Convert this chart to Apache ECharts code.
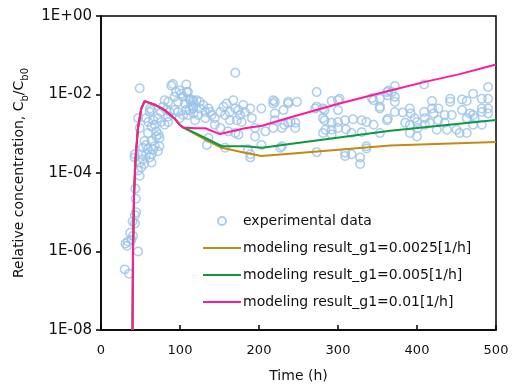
<!DOCTYPE html>
<html>
<head>
<meta charset="utf-8">
<script src="https://cdn.jsdelivr.net/npm/echarts@6/dist/echarts.min.js"></script>
<style>
html, body { margin: 0; padding: 0; background: #fff; }
#chart { width: 512px; height: 388px; }
</style>
</head>
<body>
<div id="chart"></div>
<script>
// 实验数据 (time h, Cb/Cb0)
var expTime = [
  30, 35.5, 31, 34, 33, 37, 38.5, 40.5, 40, 43, 43, 44.5, 44, 43.5, 47,
  49, 47, 51, 49, 55, 64, 42.6, 53, 61.6, 42.6, 51, 57, 64, 72, 53, 59.5, 66, 68, 74, 57, 55, 64, 74, 70, 59.5, 70, 49, 64, 68, 73,
  47, 57, 72, 76, 85, 80.6, 61.6, 64, 62, 78.5, 83, 76, 87, 93, 97.5, 85, 99.6, 104, 110, 108, 112, 116.5, 60, 66,
  49, 80.6, 85, 89, 91, 95, 93, 97.5, 99.6, 101.7, 104, 106, 108, 108.5, 110, 112, 114, 116.5, 113, 117, 121, 125, 129.5, 117, 125,
  136, 132, 138, 140, 123, 117, 119, 132, 144, 151, 155, 159, 167.5, 170, 163, 157, 174, 176, 172, 163, 178, 144, 151, 170, 134, 136,
  157, 186, 189, 189,
  170, 180, 182, 189, 191, 195, 203, 195, 174, 161, 220, 218, 218, 220, 231, 237, 237, 248, 218, 229, 237, 227, 229, 220, 208, 203,
  246, 246, 240, 232,
  273, 273, 271, 281, 283, 292, 300, 302, 300, 281, 283, 292, 300, 309, 319, 330, 336, 345, 343, 345, 353, 353, 353, 362, 368, 372,
  362, 284, 281, 292, 292, 300, 310, 317, 330, 353, 336, 336, 273, 309, 309, 317, 328, 328,
  364, 363, 372, 372, 409, 363, 372, 382, 391, 392, 385, 391, 397, 400, 391, 400, 401, 409, 410, 419, 419, 421, 416, 410, 427, 427,
  425, 435, 435, 438, 444, 442, 442, 457, 457, 463, 463, 450, 454, 463, 471, 471, 473, 471, 482, 482, 482, 482, 490, 490, 490, 490, 467
];
var expConc = [
  3.5e-7, 2.7e-7, 1.6e-6, 1.8e-6, 1.4e-6, 3.0e-6, 2.0e-6, 2.5e-6, 5.8e-6, 5.2e-6, 8.5e-6, 1.0e-5, 2.2e-5, 4.0e-5, 1.0e-6,
  8.5e-5, 1.15e-4, 1.4e-4, 1.85e-4, 1.7e-4, 1.85e-4, 2.5e-4, 2.2e-4, 2.5e-4, 3.0e-4, 3.0e-4, 3.0e-4, 3.0e-4, 3.6e-4, 4.4e-4, 4.0e-4, 4.0e-4, 4.8e-4, 4.8e-4, 5.2e-4, 6.5e-4, 6.5e-4, 7.8e-4, 8.5e-4, 1.05e-3, 1.15e-3, 1.4e-3, 1.5e-3, 1.7e-3, 9.5e-4,
  2.5e-3, 2.5e-3, 2.5e-3, 2.0e-3, 2.0e-3, 1.7e-3, 3.6e-3, 4.0e-3, 4.4e-3, 4.9e-3, 4.0e-3, 3.6e-3, 3.6e-3, 4.0e-3, 3.6e-3, 2.75e-3, 2.5e-3, 3.0e-3, 3.0e-3, 4.0e-3, 4.0e-3, 4.4e-3, 2.0e-3, 2.2e-3,
  1.45e-2, 7.1e-3, 6.5e-3, 1.7e-2, 1.85e-2, 1.15e-2, 8.7e-3, 6.5e-3, 1.26e-2, 1.05e-2, 8.7e-3, 5.9e-3, 1.8e-2, 1.15e-2, 1.15e-2, 7.8e-3, 5.4e-3, 7.1e-3, 7.1e-3, 6.5e-3, 7.1e-3, 6.5e-3, 5.4e-3, 4.9e-3, 4.4e-3,
  4.4e-3, 3.6e-3, 3.6e-3, 3.0e-3, 3.0e-3, 3.3e-3, 2.2e-3, 2.5e-3, 2.5e-3, 3.6e-3, 4.9e-3, 5.9e-3, 7.1e-3, 4.4e-3, 3.6e-3, 3.0e-3, 4.0e-3, 3.0e-3, 2.2e-3, 2.2e-3, 2.0e-3, 1.7e-3, 1.4e-3, 1.05e-3, 5.2e-4, 7.8e-4,
  4.4e-4, 4.0e-4, 2.5e-4, 3.0e-4,
  3.6e-2, 5.4e-3, 3.6e-3, 4.4e-3, 2.5e-3, 1.4e-3, 4.4e-3, 8.5e-4, 9.5e-4, 1.15e-3, 6.5e-3, 7.1e-3, 5.9e-3, 3.3e-3, 4.0e-3, 5.9e-3, 6.5e-3, 6.5e-3, 1.4e-3, 1.4e-3, 1.9e-3, 4.4e-4, 4.8e-4, 2.2e-3, 1.15e-3, 5.2e-4,
  1.9e-3, 1.4e-3, 2.0e-3, 1.7e-3,
  1.15e-2, 4.9e-3, 4.4e-3, 4.4e-3, 4.0e-3, 6.8e-3, 7.1e-3, 7.8e-3, 4.0e-3, 2.5e-3, 2.2e-3, 1.9e-3, 2.0e-3, 2.2e-3, 2.35e-3, 2.2e-3, 2.0e-3, 1.7e-3, 8.1e-3, 7.1e-3, 7.8e-3, 4.9e-3, 4.4e-3, 1.15e-2, 1.15e-2, 1.65e-2,
  2.2e-3, 1.26e-3, 1.05e-3, 1.26e-3, 9.5e-4, 1.4e-3, 1.3e-3, 1.05e-3, 1.1e-3, 1.05e-3, 4.8e-4, 4.2e-4, 3.4e-4, 3.3e-4, 2.7e-4, 3.0e-4, 2.5e-4, 1.7e-4,
  1.26e-2, 9.5e-3, 8.7e-3, 6.5e-3, 1.8e-2, 2.4e-3, 3.6e-3, 3.5e-3, 4.4e-3, 3.3e-3, 1.9e-3, 1.7e-3, 2.5e-3, 2.0e-3, 1.05e-3, 8.5e-4, 1.4e-3, 3.6e-3, 2.5e-3, 6.8e-3, 4.4e-3, 3.3e-3, 1.9e-3, 1.7e-3, 4.4e-3, 2.2e-3,
  1.26e-3, 3.0e-3, 1.9e-3, 1.26e-3, 3.0e-3, 7.8e-3, 6.5e-3, 7.5e-3, 4.0e-3, 6.8e-3, 2.5e-3, 1.26e-3, 1.05e-3, 1.05e-3, 1.05e-2, 3.0e-3, 2.5e-3, 1.7e-3, 7.8e-3, 4.4e-3, 3.6e-3, 1.7e-3, 1.55e-2, 7.8e-3, 4.4e-3, 3.3e-3, 3.3e-3
];

// 模型结果：前段三条曲线重合
var earlyTime = [39.9, 40.5, 41.8, 42.7, 43.8, 46.8, 51, 55.3, 68, 80.6, 93, 99.6, 104];
var earlyConc = [1e-8, 1e-6, 2.5e-5, 7.8e-5, 2.5e-4, 1.4e-3, 4.4e-3, 6.8e-3, 5.5e-3, 4.0e-3, 2.45e-3, 1.7e-3, 1.45e-3];

var timeG0025 = [132, 153, 182, 203, 239, 366, 500];
var concG0025 = [7.1e-4, 4.4e-4, 3.3e-4, 2.7e-4, 3.1e-4, 5.0e-4, 6.2e-4];

var timeG005 = [132, 153, 182, 204, 239, 366, 500];
var concG005 = [7.8e-4, 4.8e-4, 4.8e-4, 4.4e-4, 5.5e-4, 1.2e-3, 2.24e-3];

var timeG01 = [118.6, 132, 150.6, 182, 204, 239, 302, 360, 410, 454, 500];
var concG01 = [1.38e-3, 1.38e-3, 9.8e-4, 1.38e-3, 1.6e-3, 2.6e-3, 5.9e-3, 1.17e-2, 2.1e-2, 3.3e-2, 5.8e-2];

var yTicks = [1e-8, 1e-6, 1e-4, 1e-2, 1];
var seriesNames = [
  'experimental data',
  'modeling result_g1=0.0025[1/h]',
  'modeling result_g1=0.005[1/h]',
  'modeling result_g1=0.01[1/h]'
];

function pairs(t, c) {
  var out = [];
  for (var i = 0; i < t.length; i++) out.push([t[i], c[i]]);
  return out;
}

var FONT = 'DejaVu Sans';
var LINE_ICON = 'path://M0,0H38V2H0Z';

var chart = echarts.init(document.getElementById('chart'));
var option = {
  animation: false,
  backgroundColor: '#fff',
  grid: {
    left: 101, right: 16, top: 16, bottom: 53,
    show: true, borderColor: '#000', borderWidth: 1.5,
    containLabel: false
  },
  legend: {
    data: [
      { name: seriesNames[0] },
      { name: seriesNames[1], icon: LINE_ICON },
      { name: seriesNames[2], icon: LINE_ICON },
      { name: seriesNames[3], icon: LINE_ICON }
    ],
    orient: 'vertical',
    left: 198,
    top: 209,
    padding: 5,
    itemWidth: 38,
    itemHeight: 8,
    itemGap: 13,
    textStyle: { fontFamily: FONT, fontSize: 14, color: '#111', padding: [0, 0, 0, -3] }
  },
  xAxis: {
    type: 'value',
    min: 0, max: 500, interval: 100,
    name: 'Time (h)',
    nameLocation: 'middle',
    nameGap: 39,
    nameTextStyle: { fontFamily: FONT, fontSize: 14, color: '#111' },
    axisLine: { show: true, lineStyle: { color: '#000', width: 1.5 } },
    axisTick: { show: true, inside: true, length: 5, lineStyle: { color: '#000', width: 1.5 } },
    axisLabel: { fontFamily: FONT, fontSize: 13, color: '#111', margin: 14 },
    splitLine: { show: false }
  },
  yAxis: {
    type: 'log',
    logBase: 10,
    min: 1e-8, max: 1,
    name: '{m|Relative concentration, C}{s|b}{m|/C}{s|b0}',
    nameLocation: 'middle',
    nameRotate: 90,
    nameGap: 57,
    nameTextStyle: {
      rich: {
        m: { fontFamily: FONT, fontSize: 14, color: '#111', lineHeight: 14, verticalAlign: 'top' },
        s: { fontFamily: FONT, fontSize: 10, color: '#111', lineHeight: 18, verticalAlign: 'bottom' }
      }
    },
    axisLine: { show: true, lineStyle: { color: '#000', width: 1.5 } },
    axisTick: { show: true, inside: false, length: 5, customValues: yTicks, lineStyle: { color: '#000', width: 1.5 } },
    axisLabel: {
      fontFamily: FONT, fontSize: 15, color: '#111', margin: 9,
      customValues: yTicks,
      formatter: function (v) {
        var e = Math.round(Math.log10(v));
        var a = Math.abs(e);
        return '1E' + (e < 0 ? '-' : '+') + (a < 10 ? '0' : '') + a;
      }
    },
    splitLine: { show: false },
    minorTick: { show: false }
  },
  series: [
    {
      name: seriesNames[0],
      type: 'scatter',
      symbol: 'circle',
      symbolSize: 8.5,
      itemStyle: { color: 'rgba(255,255,255,0)', borderColor: '#9ac2ea', borderWidth: 1.5 },
      data: pairs(expTime, expConc),
      z: 2
    },
    {
      name: seriesNames[1],
      type: 'line',
      symbol: 'none',
      lineStyle: { color: '#c58a12', width: 2 },
      itemStyle: { color: '#c58a12' },
      data: pairs(earlyTime.concat(timeG0025), earlyConc.concat(concG0025)),
      z: 3
    },
    {
      name: seriesNames[2],
      type: 'line',
      symbol: 'none',
      lineStyle: { color: '#0e9a3e', width: 2 },
      itemStyle: { color: '#0e9a3e' },
      data: pairs(earlyTime.concat(timeG005), earlyConc.concat(concG005)),
      z: 4
    },
    {
      name: seriesNames[3],
      type: 'line',
      symbol: 'none',
      lineStyle: { color: '#ff1a9c', width: 2 },
      itemStyle: { color: '#ff1a9c' },
      data: pairs(earlyTime.concat(timeG01), earlyConc.concat(concG01)),
      z: 5
    }
  ]
};
chart.setOption(option);
</script>
</body>
</html>
